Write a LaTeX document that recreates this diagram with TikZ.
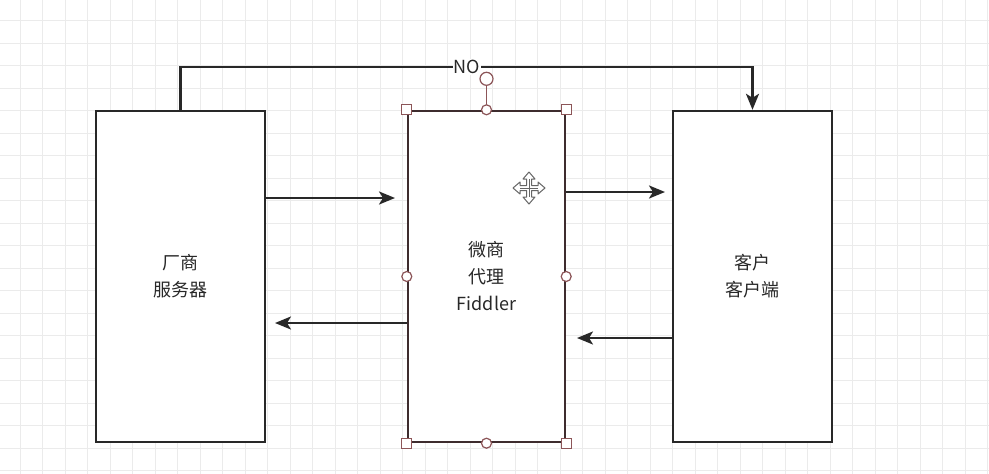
\documentclass[tikz,border=0pt]{standalone}
\usepackage{fontspec}
\newfontfamily\cjk{Noto Sans CJK SC}
\usetikzlibrary{arrows.meta, calc}
\definecolor{gridgray}{RGB}{235,235,235}
\definecolor{inkgray}{RGB}{40,40,40}
\definecolor{selred}{RGB}{140,85,88}
\definecolor{selbox}{RGB}{62,44,46}
\tikzset{
  box/.style={draw=inkgray, line width=2.4pt, fill=white, minimum height=331pt,
    align=center, inner sep=0pt, text=inkgray, font=\cjk\fontsize{18}{27}\selectfont},
  conn/.style={draw=inkgray, line width=2.4pt, -{Stealth[length=16pt, width=13pt, inset=4pt]}},
  sqhandle/.style={draw=selred, fill=white, line width=1.2pt, minimum size=10pt, inner sep=0pt},
  rdhandle/.style={draw=selred, fill=white, line width=1.2pt, circle, minimum size=10pt, inner sep=0pt}
}
\begin{document}
\begin{tikzpicture}[x=1pt, y=-1pt]
  \useasboundingbox[fill=white] (0,0) rectangle (989,474);
  % grid
  \foreach \i in {0,...,43} \draw[gridgray, line width=1pt] (20+22.5*\i,0) -- (20+22.5*\i,474);
  \foreach \j in {0,...,20} \draw[gridgray, line width=1pt] (0,20.5+22.5*\j) -- (989,20.5+22.5*\j);
  % boxes
  \node[box, minimum width=169pt] (vendor) at (180.5,276.5) {厂商\\服务器};
  \node[box, minimum width=157pt, draw=selbox] (proxy) at (486.5,276.5) {微商\\代理\\Fiddler};
  \node[box, minimum width=159pt] (client) at (752.5,276.5) {客户\\客户端};
  % top link
  \node[fill=white, inner sep=1pt, text=inkgray, font=\cjk\fontsize{18}{20}\selectfont] (nolbl) at (467,67) {NO};
  \draw[inkgray, line width=2.4pt] (vendor.north) |- (nolbl.west);
  \draw[conn] (nolbl.east) -| (client.north);
  % arrows
  \coordinate (a1e) at (395,198);
  \coordinate (a2e) at (275,323);
  \coordinate (a3e) at (665,192);
  \coordinate (a4e) at (577,338);
  \draw[conn] (vendor.east |- a1e) -- (a1e);
  \draw[conn] (proxy.west |- a2e) -- (a2e);
  \draw[conn] (proxy.east |- a3e) -- (a3e);
  \draw[conn] (client.west |- a4e) -- (a4e);
  % selection handles
  \node[rdhandle, minimum size=13pt] (rot) at ($(proxy.north)+(0,-31)$) {};
  \draw[selred, line width=1.2pt] (rot.south) -- (proxy.north);
  \foreach \a in {north west, north east, south west, south east}
    \node[sqhandle] at (proxy.\a) {};
  \foreach \a in {north, south, west, east}
    \node[rdhandle] at (proxy.\a) {};
  % move cursor
  \begin{scope}[shift={(529,188)}]
    \draw[gray!80!black, fill=white, line width=1pt, line join=round]
      (-2.5,-2.5) -- (-2.5,-9) -- (-6,-9) -- (0,-16) -- (6,-9) -- (2.5,-9) -- (2.5,-2.5)
      -- (9,-2.5) -- (9,-6) -- (16,0) -- (9,6) -- (9,2.5) -- (2.5,2.5)
      -- (2.5,9) -- (6,9) -- (0,16) -- (-6,9) -- (-2.5,9) -- (-2.5,2.5)
      -- (-9,2.5) -- (-9,6) -- (-16,0) -- (-9,-6) -- (-9,-2.5) -- cycle;
    \draw[gray!80!black, line width=0.8pt] (-9,0) -- (9,0) (0,-9) -- (0,9);
  \end{scope}
\end{tikzpicture}
\end{document}
